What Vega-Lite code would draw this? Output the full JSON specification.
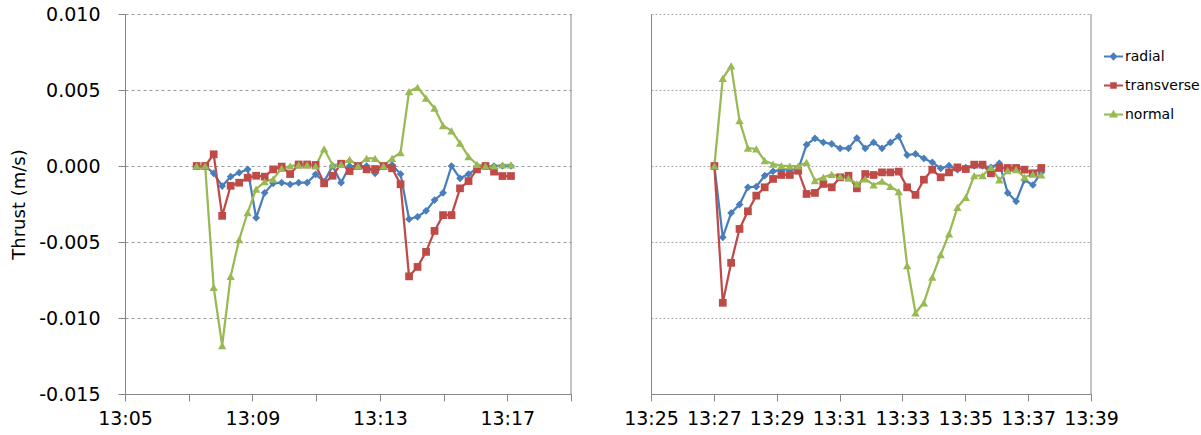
{
  "$schema": "https://vega.github.io/schema/vega-lite/v6.json",
  "padding": {"left": 10, "top": 5, "right": 0, "bottom": 0},
  "background": "white",
  "config": {
    "view": {"stroke": null},
    "font": "DejaVu Sans",
    "axis": {"labelFont": "DejaVu Sans", "labelColor": "#000", "titleFont": "DejaVu Sans", "titleColor": "#000", "domainColor": "#868686", "tickColor": "#868686"}
  },
  "spacing": 51,
  "hconcat": [
    {
      "width": 446,
      "height": 380,
      "data": {"format": {"parse": {"t": "date:'%H:%M:%S'"}}, "values": [
        {"t":"13:07:15","s":"radial","v":0},{"t":"13:07:31","s":"radial","v":0},{"t":"13:07:47","s":"radial","v":-0.00048},{"t":"13:08:03","s":"radial","v":-0.00132},{"t":"13:08:19","s":"radial","v":-0.0007},{"t":"13:08:35","s":"radial","v":-0.00044},{"t":"13:08:51","s":"radial","v":-0.00022},{"t":"13:09:07","s":"radial","v":-0.00341},{"t":"13:09:23","s":"radial","v":-0.00176},{"t":"13:09:39","s":"radial","v":-0.00114},{"t":"13:09:55","s":"radial","v":-0.0011},{"t":"13:10:11","s":"radial","v":-0.00121},{"t":"13:10:27","s":"radial","v":-0.0011},{"t":"13:10:43","s":"radial","v":-0.0011},{"t":"13:10:59","s":"radial","v":-0.00055},{"t":"13:11:15","s":"radial","v":-0.00103},{"t":"13:11:31","s":"radial","v":0},{"t":"13:11:47","s":"radial","v":-0.0011},{"t":"13:12:03","s":"radial","v":0},{"t":"13:12:19","s":"radial","v":0},{"t":"13:12:35","s":"radial","v":0},{"t":"13:12:51","s":"radial","v":-0.00048},{"t":"13:13:07","s":"radial","v":0},{"t":"13:13:23","s":"radial","v":0.00007},{"t":"13:13:39","s":"radial","v":-0.00053},{"t":"13:13:55","s":"radial","v":-0.0035},{"t":"13:14:11","s":"radial","v":-0.00334},{"t":"13:14:27","s":"radial","v":-0.00295},{"t":"13:14:43","s":"radial","v":-0.00224},{"t":"13:14:59","s":"radial","v":-0.00176},{"t":"13:15:15","s":"radial","v":0},{"t":"13:15:31","s":"radial","v":-0.00081},{"t":"13:15:47","s":"radial","v":-0.00053},{"t":"13:16:03","s":"radial","v":-0.00015},{"t":"13:16:19","s":"radial","v":0},{"t":"13:16:35","s":"radial","v":0},{"t":"13:16:51","s":"radial","v":0},{"t":"13:17:07","s":"radial","v":0},
        {"t":"13:07:15","s":"transverse","v":0},{"t":"13:07:31","s":"transverse","v":0},{"t":"13:07:47","s":"transverse","v":0.00077},{"t":"13:08:03","s":"transverse","v":-0.00328},{"t":"13:08:19","s":"transverse","v":-0.0013},{"t":"13:08:35","s":"transverse","v":-0.0011},{"t":"13:08:51","s":"transverse","v":-0.00077},{"t":"13:09:07","s":"transverse","v":-0.00064},{"t":"13:09:23","s":"transverse","v":-0.0007},{"t":"13:09:39","s":"transverse","v":-0.00022},{"t":"13:09:55","s":"transverse","v":-0.00004},{"t":"13:10:11","s":"transverse","v":-0.00053},{"t":"13:10:27","s":"transverse","v":0.0001},{"t":"13:10:43","s":"transverse","v":0.0001},{"t":"13:10:59","s":"transverse","v":0.00007},{"t":"13:11:15","s":"transverse","v":-0.00114},{"t":"13:11:31","s":"transverse","v":-0.00064},{"t":"13:11:47","s":"transverse","v":0.00015},{"t":"13:12:03","s":"transverse","v":-0.00033},{"t":"13:12:19","s":"transverse","v":0},{"t":"13:12:35","s":"transverse","v":-0.00022},{"t":"13:12:51","s":"transverse","v":-0.0002},{"t":"13:13:07","s":"transverse","v":0},{"t":"13:13:23","s":"transverse","v":-0.00015},{"t":"13:13:39","s":"transverse","v":-0.0012},{"t":"13:13:55","s":"transverse","v":-0.00726},{"t":"13:14:11","s":"transverse","v":-0.00664},{"t":"13:14:27","s":"transverse","v":-0.00565},{"t":"13:14:43","s":"transverse","v":-0.00427},{"t":"13:14:59","s":"transverse","v":-0.00323},{"t":"13:15:15","s":"transverse","v":-0.00323},{"t":"13:15:31","s":"transverse","v":-0.00147},{"t":"13:15:47","s":"transverse","v":-0.00099},{"t":"13:16:03","s":"transverse","v":-0.00022},{"t":"13:16:19","s":"transverse","v":0},{"t":"13:16:35","s":"transverse","v":-0.00037},{"t":"13:16:51","s":"transverse","v":-0.00066},{"t":"13:17:07","s":"transverse","v":-0.00066},
        {"t":"13:07:15","s":"normal","v":0},{"t":"13:07:31","s":"normal","v":0},{"t":"13:07:47","s":"normal","v":-0.00799},{"t":"13:08:03","s":"normal","v":-0.01181},{"t":"13:08:19","s":"normal","v":-0.00726},{"t":"13:08:35","s":"normal","v":-0.00484},{"t":"13:08:51","s":"normal","v":-0.00306},{"t":"13:09:07","s":"normal","v":-0.00152},{"t":"13:09:23","s":"normal","v":-0.00103},{"t":"13:09:39","s":"normal","v":-0.00086},{"t":"13:09:55","s":"normal","v":-0.00015},{"t":"13:10:11","s":"normal","v":0},{"t":"13:10:27","s":"normal","v":0.00007},{"t":"13:10:43","s":"normal","v":0.00007},{"t":"13:10:59","s":"normal","v":0},{"t":"13:11:15","s":"normal","v":0.00112},{"t":"13:11:31","s":"normal","v":0.00007},{"t":"13:11:47","s":"normal","v":0.0001},{"t":"13:12:03","s":"normal","v":0.00044},{"t":"13:12:19","s":"normal","v":0},{"t":"13:12:35","s":"normal","v":0.0005},{"t":"13:12:51","s":"normal","v":0.0005},{"t":"13:13:07","s":"normal","v":0},{"t":"13:13:23","s":"normal","v":0.0005},{"t":"13:13:39","s":"normal","v":0.00088},{"t":"13:13:55","s":"normal","v":0.0049},{"t":"13:14:11","s":"normal","v":0.00517},{"t":"13:14:27","s":"normal","v":0.00447},{"t":"13:14:43","s":"normal","v":0.0038},{"t":"13:14:59","s":"normal","v":0.00266},{"t":"13:15:15","s":"normal","v":0.00231},{"t":"13:15:31","s":"normal","v":0.0015},{"t":"13:15:47","s":"normal","v":0.00062},{"t":"13:16:03","s":"normal","v":0.0001},{"t":"13:16:19","s":"normal","v":0},{"t":"13:16:35","s":"normal","v":0},{"t":"13:16:51","s":"normal","v":0.00007},{"t":"13:17:07","s":"normal","v":0.00007}
      ]},
      "layer": [
        {
          "data": {"values": [{}]},
          "mark": {"type": "rule", "color": "#868686", "strokeWidth": 1},
          "encoding": {"x": {"datum": {"year": 1900, "month": 1, "date": 1, "hours": 13, "minutes": 19}, "type": "temporal"}}
        },
        {
          "mark": {"type": "line", "strokeWidth": 2.25},
          "encoding": {
            "x": {"field": "t", "type": "temporal", "scale": {"domain": [{"year": 1900, "month": 1, "date": 1, "hours": 13, "minutes": 5}, {"year": 1900, "month": 1, "date": 1, "hours": 13, "minutes": 19}], "nice": false},
              "axis": {"title": null, "grid": false, "values": [{"year": 1900, "month": 1, "date": 1, "hours": 13, "minutes": 5}, {"year": 1900, "month": 1, "date": 1, "hours": 13, "minutes": 7}, {"year": 1900, "month": 1, "date": 1, "hours": 13, "minutes": 9}, {"year": 1900, "month": 1, "date": 1, "hours": 13, "minutes": 11}, {"year": 1900, "month": 1, "date": 1, "hours": 13, "minutes": 13}, {"year": 1900, "month": 1, "date": 1, "hours": 13, "minutes": 15}, {"year": 1900, "month": 1, "date": 1, "hours": 13, "minutes": 17}, {"year": 1900, "month": 1, "date": 1, "hours": 13, "minutes": 19}],
                "labelExpr": "minutes(datum.value) % 4 == 1 ? timeFormat(datum.value, '%H:%M') : ''", "tickSize": 7, "labelPadding": 8, "labelFontSize": 19, "labelFlush": false, "labelOverlap": false}},
            "y": {"field": "v", "type": "quantitative", "scale": {"domain": [-0.015, 0.01], "nice": false, "zero": false},
              "axis": {"title": "Thrust (m/s)", "titleFontSize": 18, "titleFontWeight": "normal", "titlePadding": 10, "values": [-0.015, -0.01, -0.005, 0, 0.005, 0.01],
                "labelExpr": "datum.value < 0 ? '-' + format(-datum.value, '.3f') : format(datum.value, '.3f')", "labelFontSize": 19, "tickSize": 7, "labelPadding": 18, "gridColor": "#999999", "gridDash": [3, 3], "gridWidth": 1}},
            "color": {"field": "s", "type": "nominal", "scale": {"domain": ["radial", "transverse", "normal"], "range": ["#4A7EBB", "#BE4B48", "#98B954"]},
              "legend": {"orient": "none", "legendX": 978, "legendY": 32, "title": null, "labelFont": "DejaVu Sans", "labelFontSize": 14, "labelColor": "#000", "symbolSize": 361, "rowPadding": 11, "labelOffset": 1, "padding": 0,
                "encode": {"symbols": {"update": {
                  "shape": {"signal": "datum.value === 'radial' ? 'M-1,0H1M-0.28,0L0,-0.3L0.28,0L0,0.3Z' : datum.value === 'transverse' ? 'M-1,0H1M-0.24,-0.24H0.24V0.24H-0.24Z' : 'M-1,0H1M-0.3,0.22L0,-0.3L0.3,0.22Z'"},
                  "stroke": {"signal": "scale('color', datum.value)"},
                  "fill": {"signal": "scale('color', datum.value)"},
                  "strokeWidth": {"value": 2},
                  "opacity": {"value": 1},
                  "fillOpacity": {"value": 1}}}}}}
          }
        },
        {
          "transform": [{"filter": "datum.s === 'radial'"}],
          "mark": {"type": "point", "shape": "diamond", "filled": true, "opacity": 1, "size": 60},
          "encoding": {"x": {"field": "t", "type": "temporal"}, "y": {"field": "v", "type": "quantitative"}, "color": {"field": "s", "type": "nominal"}}
        },
        {
          "transform": [{"filter": "datum.s === 'transverse'"}],
          "mark": {"type": "point", "shape": "square", "filled": true, "opacity": 1, "size": 60},
          "encoding": {"x": {"field": "t", "type": "temporal"}, "y": {"field": "v", "type": "quantitative"}, "color": {"field": "s", "type": "nominal"}}
        },
        {
          "transform": [{"filter": "datum.s === 'normal'"}],
          "mark": {"type": "point", "shape": "triangle-up", "filled": true, "opacity": 1, "size": 70},
          "encoding": {"x": {"field": "t", "type": "temporal"}, "y": {"field": "v", "type": "quantitative"}, "color": {"field": "s", "type": "nominal"}}
        }
      ]
    },
    {
      "width": 440,
      "height": 380,
      "data": {"format": {"parse": {"t": "date:'%H:%M:%S'"}}, "values": [
        {"t":"13:27:01","s":"radial","v":0},{"t":"13:27:17","s":"radial","v":-0.00469},{"t":"13:27:33","s":"radial","v":-0.00309},{"t":"13:27:49","s":"radial","v":-0.00254},{"t":"13:28:05","s":"radial","v":-0.0014},{"t":"13:28:21","s":"radial","v":-0.00136},{"t":"13:28:37","s":"radial","v":-0.00064},{"t":"13:28:53","s":"radial","v":-0.00035},{"t":"13:29:09","s":"radial","v":-0.00024},{"t":"13:29:25","s":"radial","v":-0.00024},{"t":"13:29:41","s":"radial","v":-0.00024},{"t":"13:29:57","s":"radial","v":0.0014},{"t":"13:30:13","s":"radial","v":0.00182},{"t":"13:30:29","s":"radial","v":0.00155},{"t":"13:30:45","s":"radial","v":0.00145},{"t":"13:31:01","s":"radial","v":0.00116},{"t":"13:31:17","s":"radial","v":0.00116},{"t":"13:31:33","s":"radial","v":0.00184},{"t":"13:31:49","s":"radial","v":0.00116},{"t":"13:32:05","s":"radial","v":0.00155},{"t":"13:32:21","s":"radial","v":0.00116},{"t":"13:32:37","s":"radial","v":0.00155},{"t":"13:32:53","s":"radial","v":0.00195},{"t":"13:33:09","s":"radial","v":0.00072},{"t":"13:33:25","s":"radial","v":0.00079},{"t":"13:33:41","s":"radial","v":0.0005},{"t":"13:33:57","s":"radial","v":0.00024},{"t":"13:34:13","s":"radial","v":-0.00015},{"t":"13:34:29","s":"radial","v":0.00002},{"t":"13:34:45","s":"radial","v":-0.00024},{"t":"13:35:01","s":"radial","v":-0.00011},{"t":"13:35:17","s":"radial","v":0},{"t":"13:35:33","s":"radial","v":0},{"t":"13:35:49","s":"radial","v":-0.00009},{"t":"13:36:05","s":"radial","v":0.00018},{"t":"13:36:21","s":"radial","v":-0.00177},{"t":"13:36:37","s":"radial","v":-0.00232},{"t":"13:36:53","s":"radial","v":-0.00092},{"t":"13:37:09","s":"radial","v":-0.00125},{"t":"13:37:25","s":"radial","v":-0.00042},
        {"t":"13:27:01","s":"transverse","v":0},{"t":"13:27:17","s":"transverse","v":-0.009},{"t":"13:27:33","s":"transverse","v":-0.00637},{"t":"13:27:49","s":"transverse","v":-0.00414},{"t":"13:28:05","s":"transverse","v":-0.00298},{"t":"13:28:21","s":"transverse","v":-0.00195},{"t":"13:28:37","s":"transverse","v":-0.0014},{"t":"13:28:53","s":"transverse","v":-0.00085},{"t":"13:29:09","s":"transverse","v":-0.00059},{"t":"13:29:25","s":"transverse","v":-0.00059},{"t":"13:29:41","s":"transverse","v":-0.00031},{"t":"13:29:57","s":"transverse","v":-0.00184},{"t":"13:30:13","s":"transverse","v":-0.00177},{"t":"13:30:29","s":"transverse","v":-0.00118},{"t":"13:30:45","s":"transverse","v":-0.0014},{"t":"13:31:01","s":"transverse","v":-0.00074},{"t":"13:31:17","s":"transverse","v":-0.00064},{"t":"13:31:33","s":"transverse","v":-0.00147},{"t":"13:31:49","s":"transverse","v":-0.00053},{"t":"13:32:05","s":"transverse","v":-0.00059},{"t":"13:32:21","s":"transverse","v":-0.00042},{"t":"13:32:37","s":"transverse","v":-0.00042},{"t":"13:32:53","s":"transverse","v":-0.00037},{"t":"13:33:09","s":"transverse","v":-0.0014},{"t":"13:33:25","s":"transverse","v":-0.0019},{"t":"13:33:41","s":"transverse","v":-0.0009},{"t":"13:33:57","s":"transverse","v":-0.00024},{"t":"13:34:13","s":"transverse","v":-0.00074},{"t":"13:34:29","s":"transverse","v":-0.00042},{"t":"13:34:45","s":"transverse","v":-0.00009},{"t":"13:35:01","s":"transverse","v":-0.0002},{"t":"13:35:17","s":"transverse","v":0.00009},{"t":"13:35:33","s":"transverse","v":0.00009},{"t":"13:35:49","s":"transverse","v":-0.00048},{"t":"13:36:05","s":"transverse","v":-0.00013},{"t":"13:36:21","s":"transverse","v":-0.00013},{"t":"13:36:37","s":"transverse","v":-0.00013},{"t":"13:36:53","s":"transverse","v":-0.00024},{"t":"13:37:09","s":"transverse","v":-0.00048},{"t":"13:37:25","s":"transverse","v":-0.00013},
        {"t":"13:27:01","s":"normal","v":0},{"t":"13:27:17","s":"normal","v":0.00576},{"t":"13:27:33","s":"normal","v":0.00659},{"t":"13:27:49","s":"normal","v":0.00298},{"t":"13:28:05","s":"normal","v":0.00118},{"t":"13:28:21","s":"normal","v":0.00112},{"t":"13:28:37","s":"normal","v":0.00035},{"t":"13:28:53","s":"normal","v":0.00013},{"t":"13:29:09","s":"normal","v":0.00002},{"t":"13:29:25","s":"normal","v":0},{"t":"13:29:41","s":"normal","v":0},{"t":"13:29:57","s":"normal","v":0.00024},{"t":"13:30:13","s":"normal","v":-0.00096},{"t":"13:30:29","s":"normal","v":-0.00074},{"t":"13:30:45","s":"normal","v":-0.00055},{"t":"13:31:01","s":"normal","v":-0.00068},{"t":"13:31:17","s":"normal","v":-0.00079},{"t":"13:31:33","s":"normal","v":-0.00118},{"t":"13:31:49","s":"normal","v":-0.00085},{"t":"13:32:05","s":"normal","v":-0.00125},{"t":"13:32:21","s":"normal","v":-0.001},{"t":"13:32:37","s":"normal","v":-0.00134},{"t":"13:32:53","s":"normal","v":-0.00169},{"t":"13:33:09","s":"normal","v":-0.00655},{"t":"13:33:25","s":"normal","v":-0.00966},{"t":"13:33:41","s":"normal","v":-0.009},{"t":"13:33:57","s":"normal","v":-0.00731},{"t":"13:34:13","s":"normal","v":-0.00583},{"t":"13:34:29","s":"normal","v":-0.00447},{"t":"13:34:45","s":"normal","v":-0.00272},{"t":"13:35:01","s":"normal","v":-0.00206},{"t":"13:35:17","s":"normal","v":-0.00064},{"t":"13:35:33","s":"normal","v":-0.00064},{"t":"13:35:49","s":"normal","v":-0.00009},{"t":"13:36:05","s":"normal","v":-0.00092},{"t":"13:36:21","s":"normal","v":-0.00031},{"t":"13:36:37","s":"normal","v":-0.00024},{"t":"13:36:53","s":"normal","v":-0.00074},{"t":"13:37:09","s":"normal","v":-0.00053},{"t":"13:37:25","s":"normal","v":-0.00059}
      ]},
      "layer": [
        {
          "data": {"values": [{}]},
          "mark": {"type": "rule", "color": "#868686", "strokeWidth": 1},
          "encoding": {"x": {"datum": {"year": 1900, "month": 1, "date": 1, "hours": 13, "minutes": 39}, "type": "temporal"}}
        },
        {
          "mark": {"type": "line", "strokeWidth": 2.25},
          "encoding": {
            "x": {"field": "t", "type": "temporal", "scale": {"domain": [{"year": 1900, "month": 1, "date": 1, "hours": 13, "minutes": 25}, {"year": 1900, "month": 1, "date": 1, "hours": 13, "minutes": 39}], "nice": false},
              "axis": {"title": null, "grid": false, "values": [{"year": 1900, "month": 1, "date": 1, "hours": 13, "minutes": 25}, {"year": 1900, "month": 1, "date": 1, "hours": 13, "minutes": 27}, {"year": 1900, "month": 1, "date": 1, "hours": 13, "minutes": 29}, {"year": 1900, "month": 1, "date": 1, "hours": 13, "minutes": 31}, {"year": 1900, "month": 1, "date": 1, "hours": 13, "minutes": 33}, {"year": 1900, "month": 1, "date": 1, "hours": 13, "minutes": 35}, {"year": 1900, "month": 1, "date": 1, "hours": 13, "minutes": 37}, {"year": 1900, "month": 1, "date": 1, "hours": 13, "minutes": 39}],
                "format": "%H:%M", "tickSize": 7, "labelPadding": 8, "labelFontSize": 19, "labelFlush": false, "labelOverlap": false}},
            "y": {"field": "v", "type": "quantitative", "scale": {"domain": [-0.015, 0.01], "nice": false, "zero": false},
              "axis": {"title": null, "labels": false, "ticks": false, "minExtent": 0, "values": [-0.015, -0.01, -0.005, 0, 0.005, 0.01], "gridColor": "#aaaaaa", "gridDash": [2, 2], "gridWidth": 1}},
            "color": {"field": "s", "type": "nominal"}
          }
        },
        {
          "transform": [{"filter": "datum.s === 'radial'"}],
          "mark": {"type": "point", "shape": "diamond", "filled": true, "opacity": 1, "size": 60},
          "encoding": {"x": {"field": "t", "type": "temporal"}, "y": {"field": "v", "type": "quantitative"}, "color": {"field": "s", "type": "nominal"}}
        },
        {
          "transform": [{"filter": "datum.s === 'transverse'"}],
          "mark": {"type": "point", "shape": "square", "filled": true, "opacity": 1, "size": 60},
          "encoding": {"x": {"field": "t", "type": "temporal"}, "y": {"field": "v", "type": "quantitative"}, "color": {"field": "s", "type": "nominal"}}
        },
        {
          "transform": [{"filter": "datum.s === 'normal'"}],
          "mark": {"type": "point", "shape": "triangle-up", "filled": true, "opacity": 1, "size": 70},
          "encoding": {"x": {"field": "t", "type": "temporal"}, "y": {"field": "v", "type": "quantitative"}, "color": {"field": "s", "type": "nominal"}}
        }
      ]
    }
  ]
}
